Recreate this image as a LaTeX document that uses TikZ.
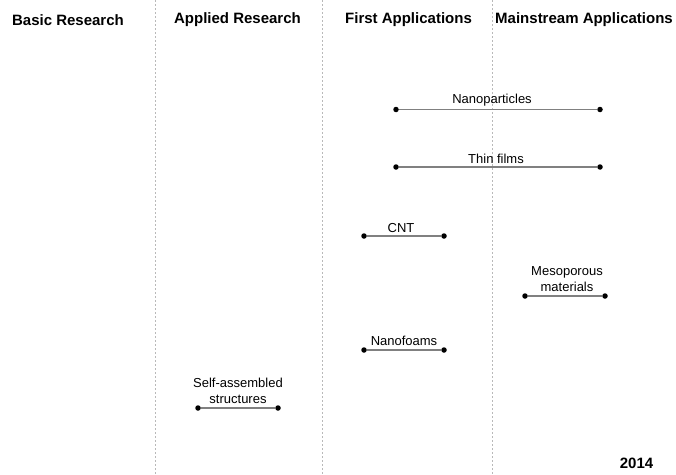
\documentclass[tikz,border=0pt]{standalone}
\usepackage{fontspec}
\setmainfont{Liberation Sans}
\begin{document}
\begin{tikzpicture}[x=1pt,y=-1pt,
  hdr/.style={font=\bfseries\fontsize{15}{17}\selectfont, anchor=center},
  lbl/.style={font=\fontsize{13}{16}\selectfont, anchor=center, align=center, inner sep=0pt},
  sep/.style={gray!55, line width=0.4pt, dash pattern=on 2pt off 2pt},
  bar/.style={black!50, line width=1.2pt},
  dot/.style={circle, fill=black, inner sep=0pt, minimum size=5.5pt}]
\useasboundingbox (0,0) rectangle (676,474);
% separators
\coordinate (s1t) at (155,0); \coordinate (s1b) at (155,474);
\coordinate (s2t) at (322,0); \coordinate (s2b) at (322,474);
\coordinate (s3t) at (492,0); \coordinate (s3b) at (492,474);
\draw[sep] (s1t) -- (s1b);
\draw[sep] (s2t) -- (s2b);
\draw[sep] (s3t) -- (s3b);
% headers
\node[hdr] (h1) at (68,20) {Basic Research};
\node[hdr] (h2) at (237.5,20) {Applied Research};
\node[hdr] (h3) at (408.5,20) {First Applications};
\node[hdr] (h4) at (584,20) {Mainstream Applications};
% Nanoparticles
\node[dot] (np1) at (396,109.5) {}; \node[dot] (np2) at (600,109.5) {};
\draw[bar] (np1) -- (np2);
\node[lbl] (npl) at (492,100) {Nanoparticles};
% Thin films
\node[dot] (tf1) at (396,167) {}; \node[dot] (tf2) at (600,167) {};
\draw[bar] (tf1) -- (tf2);
\node[lbl] (tfl) at (496,158.5) {Thin films};
% CNT
\node[dot] (cn1) at (364,236) {}; \node[dot] (cn2) at (444,236) {};
\draw[bar] (cn1) -- (cn2);
\node[lbl] (cnl) at (401,228) {CNT};
% Mesoporous
\node[dot] (mp1) at (525,296) {}; \node[dot] (mp2) at (605,296) {};
\draw[bar] (mp1) -- (mp2);
\node[lbl] (mpl) at (567,279.5) {Mesoporous\\materials};
% Nanofoams
\node[dot] (nf1) at (364,350) {}; \node[dot] (nf2) at (444,350) {};
\draw[bar] (nf1) -- (nf2);
\node[lbl] (nfl) at (404,340.5) {Nanofoams};
% Self-assembled
\node[dot] (sa1) at (198,408) {}; \node[dot] (sa2) at (278,408) {};
\draw[bar] (sa1) -- (sa2);
\node[lbl] (sal) at (238,390.5) {Self-assembled\\structures};
% year
\node[hdr] (yr) at (636.5,463) {2014};
\end{tikzpicture}
\end{document}
